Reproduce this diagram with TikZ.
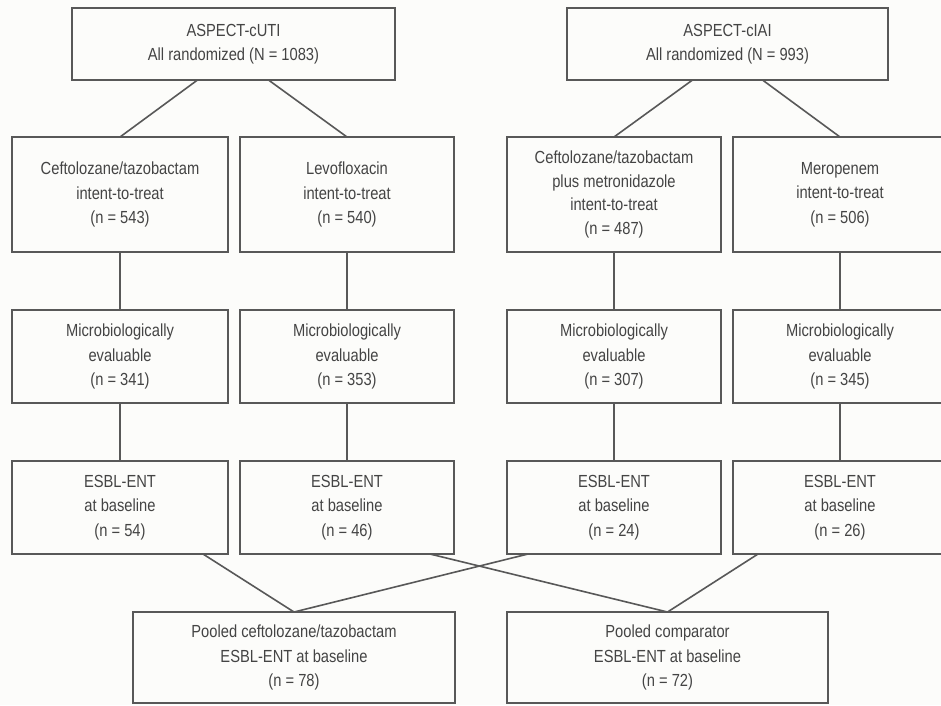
\documentclass[tikz,border=0pt]{standalone}
\usepackage{fontspec}
\setmainfont{Liberation Sans}[FakeStretch=0.84]
\usetikzlibrary{calc}
\definecolor{bg}{RGB}{252,252,250}
\definecolor{txt}{RGB}{68,68,68}
\definecolor{ln}{RGB}{88,88,88}
\tikzset{
  box/.style={draw=ln, line width=1.8pt, rectangle, inner sep=0pt, outer sep=0pt,
    align=center, text=txt, font=\fontsize{17.5}{24.5}\selectfont},
  link/.style={draw=ln, line width=1.6pt}
}
\begin{document}
\begin{tikzpicture}[x=1pt,y=1pt]
\fill[bg] (0,0) rectangle (941,-705);
\useasboundingbox (0,0) rectangle (941,-705);
% top
\node[box, minimum width=323pt, minimum height=72pt] (cuti) at (233.5,-44) {ASPECT-cUTI\\All randomized (N = 1083)};
\node[box, minimum width=321pt, minimum height=72pt] (ciai) at (727.5,-44) {ASPECT-cIAI\\All randomized (N = 993)};
% row 2
\node[box, minimum width=216pt, minimum height=115pt] (itt1) at (120,-194.5) {Ceftolozane/tazobactam\\intent-to-treat\\(n = 543)};
\node[box, minimum width=214pt, minimum height=115pt] (itt2) at (347,-194.5) {Levofloxacin\\intent-to-treat\\(n = 540)};
\node[box, minimum width=214pt, minimum height=115pt, font=\fontsize{17.5}{23.5}\selectfont] (itt3) at (614,-194.5) {Ceftolozane/tazobactam\\plus metronidazole\\intent-to-treat\\(n = 487)};
\node[box, minimum width=214pt, minimum height=115pt] (itt4) at (840,-194.5) {Meropenem\\intent-to-treat\\(n = 506)};
% row 3
\node[box, minimum width=216pt, minimum height=93pt] (mic1) at (120,-356.5) {Microbiologically\\evaluable\\(n = 341)};
\node[box, minimum width=214pt, minimum height=93pt] (mic2) at (347,-356.5) {Microbiologically\\evaluable\\(n = 353)};
\node[box, minimum width=214pt, minimum height=93pt] (mic3) at (614,-356.5) {Microbiologically\\evaluable\\(n = 307)};
\node[box, minimum width=214pt, minimum height=93pt] (mic4) at (840,-356.5) {Microbiologically\\evaluable\\(n = 345)};
% row 4
\node[box, minimum width=216pt, minimum height=93pt] (esb1) at (120,-507.5) {ESBL-ENT\\at baseline\\(n = 54)};
\node[box, minimum width=214pt, minimum height=93pt] (esb2) at (347,-507.5) {ESBL-ENT\\at baseline\\(n = 46)};
\node[box, minimum width=214pt, minimum height=93pt] (esb3) at (614,-507.5) {ESBL-ENT\\at baseline\\(n = 24)};
\node[box, minimum width=214pt, minimum height=93pt] (esb4) at (840,-507.5) {ESBL-ENT\\at baseline\\(n = 26)};
% pooled
\node[box, minimum width=322pt, minimum height=91pt] (poolA) at (294,-657.5) {Pooled ceftolozane/tazobactam\\ESBL-ENT at baseline\\(n = 78)};
\node[box, minimum width=321pt, minimum height=91pt] (poolB) at (667.5,-657.5) {Pooled comparator\\ESBL-ENT at baseline\\(n = 72)};
% connectors
\draw[link] ($(cuti.south)+(-36,0)$) -- (itt1.north);
\draw[link] ($(cuti.south)+(35,0)$) -- (itt2.north);
\draw[link] ($(ciai.south)+(-35,0)$) -- (itt3.north);
\draw[link] ($(ciai.south)+(35,0)$) -- (itt4.north);
\foreach \i in {1,2,3,4}{
  \draw[link] (itt\i.south) -- (mic\i.north);
  \draw[link] (mic\i.south) -- (esb\i.north);
}
\draw[link] ($(esb1.south)+(83,0)$) -- (poolA.north);
\draw[link] ($(esb3.south)+(-86,0)$) -- (poolA.north);
\draw[link] ($(esb2.south)+(83,0)$) -- (poolB.north);
\draw[link] ($(esb4.south)+(-82,0)$) -- (poolB.north);
\end{tikzpicture}
\end{document}
